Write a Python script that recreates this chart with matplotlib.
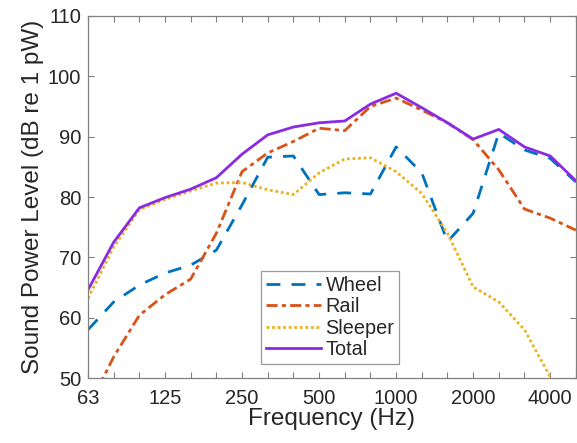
import numpy as np
import matplotlib
matplotlib.use("Agg")
from matplotlib import pyplot as plt

# third-octave band centre frequencies (Hz)
freqs = [63, 80, 100, 125, 160, 200, 250, 315, 400, 500, 630, 800,
         1000, 1250, 1600, 2000, 2500, 3150, 4000, 5000]

wheel = [58.0, 62.6, 65.4, 67.4, 68.7, 71.2, 78.7, 86.6, 86.8, 80.4, 80.7, 80.5,
         88.3, 84.0, 72.6, 77.3, 90.6, 87.8, 86.4, 82.5]
rail = [45.0, 53.5, 60.4, 63.8, 66.4, 74.0, 84.2, 87.3, 89.2, 91.4, 91.0, 95.0,
        96.4, 94.4, 92.3, 89.5, 84.5, 78.0, 76.5, 74.5]
sleeper = [63.2, 71.7, 77.9, 79.6, 81.0, 82.3, 82.4, 81.2, 80.4, 84.0, 86.3, 86.5,
           84.2, 80.6, 74.0, 65.1, 62.6, 58.0, 50.2, 41.0]
total = [64.6, 72.5, 78.2, 79.9, 81.3, 83.2, 87.1, 90.3, 91.6, 92.3, 92.6, 95.4,
         97.2, 94.8, 92.3, 89.6, 91.2, 88.3, 86.8, 82.7]

tick_labels = ['63', '125', '250', '500', '1000', '2000', '4000']

plt.rcParams['font.family'] = ['Liberation Sans', 'DejaVu Sans']
txt = '#262626'
edge = '#808080'

fig = plt.figure(figsize=(5.77, 4.43), dpi=100)
ax = fig.add_axes([0.1525, 0.1467, 0.8455, 0.8172])

x = np.arange(len(freqs))
ax.plot(x, wheel, color='#0072BD', lw=2, ls=(0, (5, 4)), label='Wheel')
ax.plot(x, rail, color='#D95319', lw=2, ls=(0, (4, 1.5, 1.5, 1.5)), label='Rail')
ax.plot(x, sleeper, color='#EDB120', lw=2, ls=(0, (1, 1)), label='Sleeper')
ax.plot(x, total, color='#8A2BE2', lw=2, ls='-', label='Total')

ax.set_xlim(0, len(freqs) - 1)
ax.set_ylim(50, 110)
ax.set_xticks(x)
ax.set_xticklabels([str(f) if str(f) in tick_labels else '' for f in freqs])
ax.set_yticks(np.arange(50, 111, 10))

ax.tick_params(direction='in', top=True, right=True, length=4, width=0.8,
               colors=edge, labelcolor=txt, labelsize=14.5)
ax.tick_params(axis='x', pad=8)
ax.tick_params(axis='y', pad=5)
for s in ax.spines.values():
    s.set_color(edge)
    s.set_linewidth(0.9)

ax.set_xlabel('Frequency (Hz)', fontsize=17.5, color=txt, labelpad=0)
ax.set_ylabel('Sound Power Level (dB re 1 pW)', fontsize=17.5, color=txt, labelpad=3)

leg = ax.legend(loc='lower left', bbox_to_anchor=(0.3545, 0.0387), fontsize=14.3,
                handlelength=2.75, handletextpad=0.25, borderpad=0.25,
                labelspacing=0.12, frameon=True, fancybox=False,
                borderaxespad=0)
leg.get_frame().set_edgecolor(edge)
leg.get_frame().set_linewidth(0.9)
for t in leg.get_texts():
    t.set_color(txt)

fig.savefig('out.png', dpi=100)
